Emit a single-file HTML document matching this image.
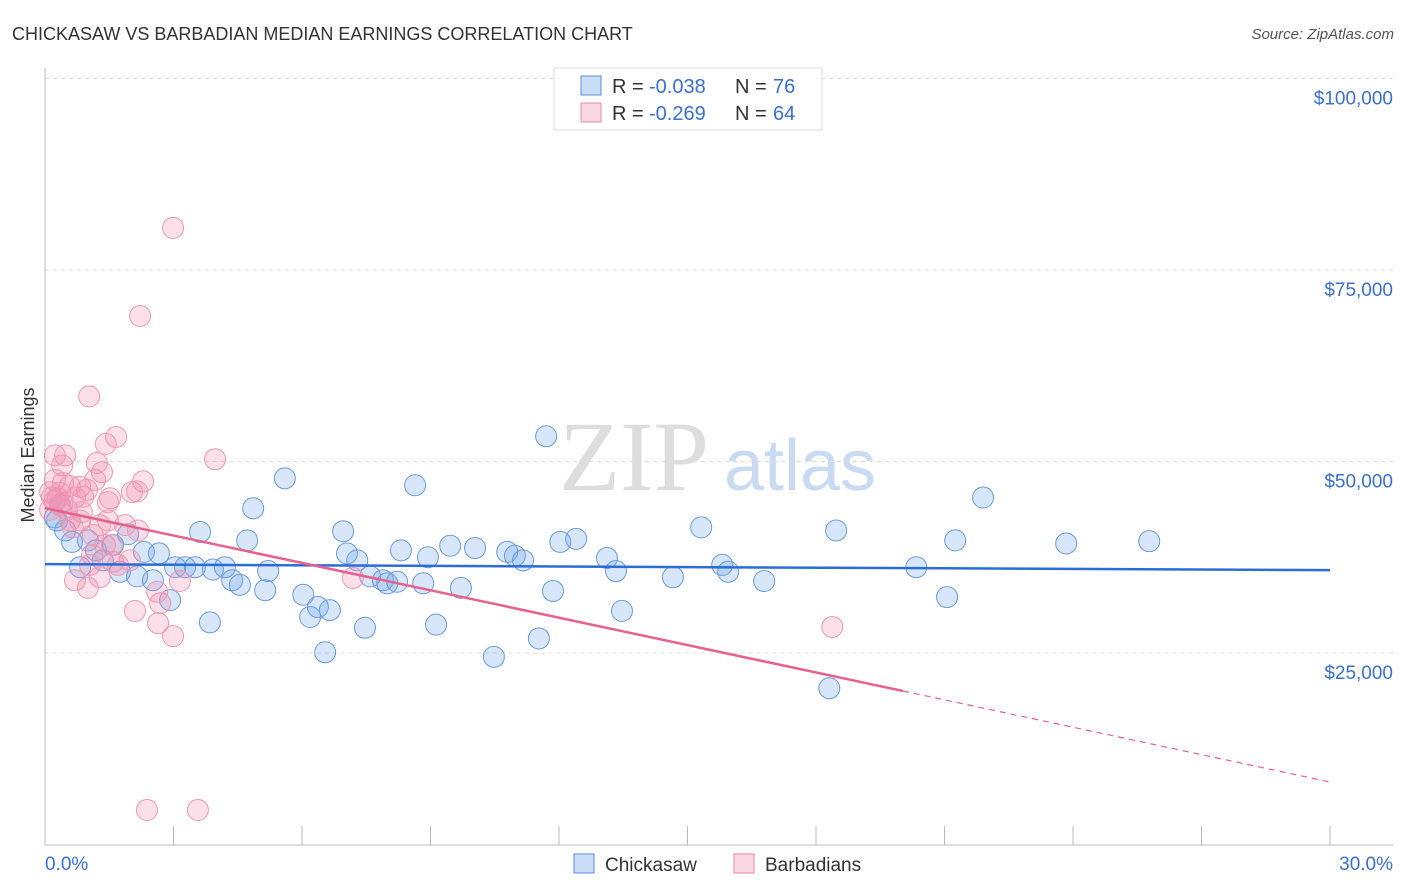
<!DOCTYPE html>
<html><head><meta charset="utf-8"><style>
body{margin:0;background:#fff;font-family:"Liberation Sans",sans-serif}
svg{display:block}
</style></head><body>
<svg id="chart" width="1406" height="892" xmlns="http://www.w3.org/2000/svg">
<text x="12" y="40" font-size="18" fill="#333">CHICKASAW VS BARBADIAN MEDIAN EARNINGS CORRELATION CHART</text>
<text x="1394" y="39" font-size="15" fill="#555" font-style="italic" text-anchor="end">Source: ZipAtlas.com</text>
<g>
<text x="634" y="490" font-size="100" font-family="Liberation Serif,serif" fill="#ddd" text-anchor="middle">ZIP</text>
<text x="800" y="490" font-size="72" fill="#c9daf2" text-anchor="middle">atlas</text>
</g>
<g id="grid"></g>
<g id="axes"></g>
<g id="pts"></g>
<g id="lines"></g>
<text transform="translate(34,455) rotate(-90)" font-size="18" fill="#333" text-anchor="middle">Median Earnings</text>
<g>
<rect x="554" y="68" width="268" height="62" fill="#fff" stroke="#ddd"/>
<rect x="581" y="76" width="20" height="19" fill="rgba(100,160,230,0.35)" stroke="#5a8fd8"/>
<rect x="581" y="103" width="20" height="19" fill="rgba(240,140,170,0.35)" stroke="#e88aa8"/>
<text x="612" y="93" font-size="20" fill="#333">R =</text>
<text x="649" y="93" font-size="20" fill="#3a70d0">-0.038</text>
<text x="735" y="93" font-size="20" fill="#333">N =</text>
<text x="773" y="93" font-size="20" fill="#3a70d0">76</text>
<text x="612" y="120" font-size="20" fill="#333">R =</text>
<text x="649" y="120" font-size="20" fill="#3a70d0">-0.269</text>
<text x="735" y="120" font-size="20" fill="#333">N =</text>
<text x="773" y="120" font-size="20" fill="#3a70d0">64</text>
</g>
<g>
<rect x="574" y="854" width="20" height="19" fill="rgba(100,160,230,0.35)" stroke="#5a8fd8"/>
<text x="605" y="871" font-size="19" fill="#333">Chickasaw</text>
<rect x="734" y="854" width="20" height="19" fill="rgba(240,140,170,0.35)" stroke="#e88aa8"/>
<text x="765" y="871" font-size="19" fill="#333">Barbadians</text>
</g>
</svg>
<script>
const blueX=[0.23,0.28,0.35,0.47,0.63,0.82,1.00,1.19,1.35,1.59,1.75,1.94,2.15,2.31,2.52,2.66,2.92,3.04,3.27,3.50,3.62,3.85,3.92,4.20,4.37,4.55,4.72,4.86,5.14,5.21,5.60,6.03,6.19,6.37,6.65,6.54,6.96,7.05,7.29,7.47,7.59,7.89,7.99,8.22,8.31,8.64,8.83,8.94,9.13,9.46,9.71,10.04,10.48,10.79,10.97,11.16,11.53,11.70,11.86,12.03,12.40,13.12,13.33,13.47,14.66,15.32,15.81,15.95,16.79,18.31,18.47,20.34,21.06,21.25,21.90,23.84,25.78];
const blueY=[42.7,42.3,44.3,41.0,39.5,36.2,39.7,38.4,37.1,39.1,35.6,40.5,35.0,38.2,34.5,38.0,31.9,36.2,36.2,36.2,40.8,29.0,35.9,36.2,34.5,33.9,39.7,43.9,33.2,35.7,47.8,32.6,29.7,31.0,30.6,25.1,40.9,38.0,37.1,28.3,35.0,34.5,34.1,34.3,38.4,46.9,34.1,37.5,28.7,39.0,33.5,38.7,24.5,38.2,37.7,37.1,26.9,53.3,33.1,39.5,39.9,37.4,35.7,30.5,34.9,41.4,36.5,35.6,34.4,20.4,41.0,36.2,32.3,39.7,45.3,39.3,39.6];
const pinkX=[2.99,2.22,1.03,1.66,1.42,0.23,0.47,0.40,1.21,1.33,3.97,2.29,0.23,0.42,0.58,0.82,0.98,1.17,0.70,0.89,1.52,2.03,2.15,1.47,0.23,0.35,0.51,0.86,0.58,0.82,1.47,1.87,2.17,0.65,1.28,1.12,1.40,1.10,1.59,1.98,0.70,1.00,1.28,2.10,2.69,2.62,3.15,2.64,2.99,7.19,18.38,2.38,3.57,0.12,0.16,0.30,0.35,0.40,1.70,0.12,1.05,1.56];
const pinkY=[80.5,69.0,58.5,53.2,52.3,50.8,50.8,49.5,49.8,48.6,50.3,47.4,47.6,47.2,46.8,46.7,46.3,47.6,45.3,45.4,45.2,46.0,46.1,44.7,44.9,44.3,43.7,43.4,42.3,42.3,42.3,41.7,41.0,41.4,41.7,40.4,39.1,37.8,36.9,37.1,34.5,33.5,34.9,30.5,31.5,33.0,34.4,28.9,27.2,34.8,28.4,4.5,4.5,46.0,45.3,45.2,45.9,44.6,36.5,43.7,36.5,39.1];
const yTicks=[25000,50000,75000,100000];
const yTickLabels=["$25,000","$50,000","$75,000","$100,000"];
const blueTrend=[36605,35822];
const pinkTrend=[43913,8156];
const pinkSolidEnd=20.03;
const NS="http://www.w3.org/2000/svg";
const X0=45,X1=1330,Y0=844.5,PY=191.5/25000;
const sx=v=>X0+(v/30)*(X1-X0);
const sy=v=>Y0-v*PY;
function mk(tag,attrs,parent){const e=document.createElementNS(NS,tag);for(const k in attrs)e.setAttribute(k,attrs[k]);parent.appendChild(e);return e;}
const grid=document.getElementById('grid'),axes=document.getElementById('axes'),pts=document.getElementById('pts'),lines=document.getElementById('lines');
yTicks.forEach((t,i)=>{
 const l=mk('line',{x1:45,x2:1393,y1:sy(t),y2:sy(t),stroke:'#ddd','stroke-dasharray':'4,4'},grid);
 
 
 const tx=mk('text',{x:1393,y:sy(t)+26,'font-size':19,fill:'#3a70d0','text-anchor':'end'},axes);
 tx.textContent=yTickLabels[i];
 
 
});
const ax=mk('line',{x1:45,x2:45,y1:68,y2:845,stroke:'#bbb'},axes);


const bx=mk('line',{x1:45,x2:1393,y1:845,y2:845,stroke:'#bbb'},axes);


for(let i=1;i<=10;i++){
 const tk=mk('line',{x1:sx(i*3),x2:sx(i*3),y1:826,y2:845,stroke:'#bbb'},axes);
 
 
}
const xl=mk('text',{x:45,y:870,'font-size':19,fill:'#3a70d0'},axes);xl.textContent='0.0%';


const xr=mk('text',{x:1393,y:870,'font-size':19,fill:'#3a70d0','text-anchor':'end'},axes);xr.textContent='30.0%';


blueX.forEach((x,i)=>{
 const c=mk('circle',{cx:sx(x),cy:sy(blueY[i]*1000),r:10.5,fill:'rgba(110,165,230,0.28)',stroke:'#6a9ade','stroke-width':1},pts);
 
 
});
pinkX.forEach((x,i)=>{
 const c=mk('circle',{cx:sx(x),cy:sy(pinkY[i]*1000),r:10.5,fill:'rgba(240,145,175,0.28)',stroke:'#ec98b3','stroke-width':1},pts);
 
 
});
const bl=mk('line',{x1:sx(0),y1:sy(blueTrend[0]),x2:sx(30),y2:sy(blueTrend[1]),stroke:'#2a6dd6','stroke-width':2.5},lines);


const pAt=x=>pinkTrend[0]+(pinkTrend[1]-pinkTrend[0])*x/30;
const pl=mk('line',{x1:sx(0),y1:sy(pinkTrend[0]),x2:sx(pinkSolidEnd),y2:sy(pAt(pinkSolidEnd)),stroke:'#e8608e','stroke-width':2.5},lines);


const pd=mk('line',{x1:sx(pinkSolidEnd),y1:sy(pAt(pinkSolidEnd)),x2:sx(30),y2:sy(pinkTrend[1]),stroke:'#e8608e','stroke-width':1.2,'stroke-dasharray':'6,5'},lines);


</script>
</body></html>
